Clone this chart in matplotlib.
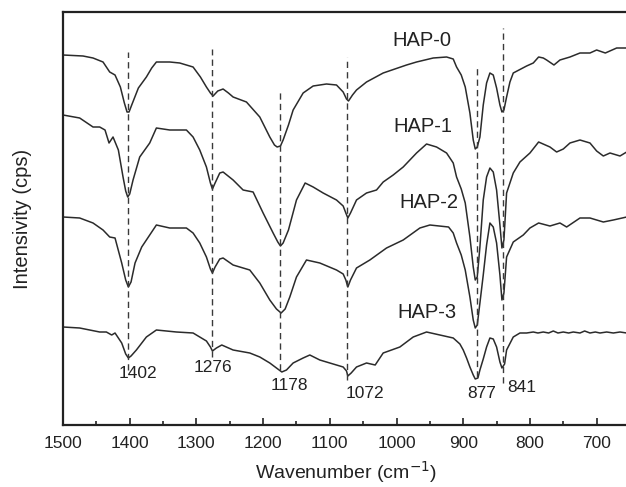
import matplotlib
matplotlib.use("Agg")
import matplotlib.pyplot as plt
from matplotlib.ticker import MultipleLocator

plt.rcParams["font.family"] = ["Liberation Sans", "DejaVu Sans"]

# spectra: wavenumber (cm-1) and intensity (arb., offset already applied)
hap0_wn = [1500, 1470, 1455, 1440, 1430, 1422, 1414, 1408, 1404, 1401, 1397, 1387, 1375, 1367,
           1360, 1340, 1325, 1305, 1294, 1285, 1279, 1275, 1268, 1260, 1252, 1245, 1225, 1205,
           1190, 1183, 1179, 1174, 1170, 1162, 1155, 1140, 1125, 1105, 1090, 1080, 1075, 1072,
           1066, 1060, 1045, 1020, 985, 970, 945, 925, 915, 910, 903, 897, 890, 885, 882, 879,
           875, 870, 865, 860, 855, 850, 845, 842, 839, 835, 830, 825, 805, 795, 787, 780, 775,
           764, 755, 740, 725, 710, 700, 687, 670, 655]
hap0_y = [370, 369, 367, 363, 353, 350, 338, 322, 313, 313, 320, 337, 348, 357,
          363, 363, 362, 358, 348, 338, 332, 329, 334, 336, 332, 328, 323, 308,
          288, 280, 278, 279, 285, 300, 315, 332, 339, 341, 340, 333, 326, 324,
          330, 335, 343, 352, 360, 363, 367, 368, 366, 358, 350, 338, 312, 285, 276, 278,
          288, 320, 342, 352, 350, 337, 320, 313, 315, 328, 343, 352, 359, 362, 368, 367, 365,
          360, 365, 368, 372, 372, 375, 372, 377, 377]

hap1_wn = [1500, 1475, 1455, 1445, 1437, 1431, 1425, 1417, 1410, 1406, 1403, 1400, 1395, 1385,
           1370, 1360, 1340, 1315, 1305, 1295, 1285, 1279, 1276, 1272, 1265, 1260, 1245, 1230,
           1215, 1200, 1185, 1178, 1174, 1170, 1162, 1150, 1137, 1125, 1110, 1090, 1080, 1076,
           1073, 1069, 1060, 1045, 1030, 1020, 1005, 990, 970, 955, 940, 925, 915, 910, 903,
           897, 890, 885, 882, 879, 875, 870, 865, 860, 855, 850, 845, 842, 839, 835, 825, 815,
           800, 787, 770, 760, 750, 740, 725, 710, 700, 690, 680, 675, 665, 655]
hap1_y = [310, 307, 298, 298, 295, 282, 288, 275, 248, 234, 228, 231, 245, 268,
          282, 297, 295, 295, 288, 275, 258, 242, 236, 242, 252, 253, 245, 235,
          233, 212, 192, 183, 179, 182, 195, 225, 242, 238, 232, 225, 219, 212,
          207, 212, 225, 232, 235, 243, 250, 258, 272, 281, 278, 272, 262, 248, 236,
          222, 188, 158, 145, 148, 178, 225, 248, 257, 253, 235, 200, 177, 185, 232, 252, 263,
          272, 283, 278, 273, 276, 282, 285, 282, 274, 269, 272, 271, 269, 273]

hap2_wn = [1500, 1475, 1455, 1440, 1430, 1422, 1412, 1406, 1402, 1398, 1392, 1382, 1370, 1360,
           1340, 1315, 1305, 1295, 1285, 1279, 1276, 1272, 1265, 1260, 1245, 1220, 1205, 1190,
           1180, 1173, 1167, 1160, 1150, 1135, 1115, 1090, 1080, 1076, 1073, 1069, 1060, 1040,
           1015, 990, 965, 950, 922, 915, 910, 903, 897, 890, 885, 882, 879, 875, 870, 865, 860,
           855, 850, 845, 842, 839, 835, 825, 810, 800, 787, 770, 755, 745, 725, 710, 690, 675,
           655]
hap2_y = [208, 207, 202, 195, 188, 187, 162, 145, 138, 143, 162, 178, 190, 200,
          197, 197, 192, 182, 168, 156, 152, 158, 166, 167, 160, 155, 142, 125,
          116, 112, 116, 128, 148, 165, 162, 155, 151, 145, 138, 145, 157, 165,
          177, 185, 197, 200, 198, 192, 182, 170, 155, 128, 105, 97, 100, 122, 150, 180, 202,
          198, 182, 150, 125, 132, 168, 183, 190, 197, 202, 199, 202, 198, 207, 207, 203, 205,
          208]

hap3_wn = [1500, 1475, 1445, 1435, 1427, 1422, 1412, 1406, 1402, 1398, 1390, 1375, 1360, 1330,
           1305, 1285, 1279, 1276, 1270, 1262, 1245, 1220, 1205, 1190, 1178, 1172, 1165, 1155,
           1140, 1130, 1115, 1090, 1080, 1075, 1073, 1068, 1060, 1045, 1032, 1020, 995, 975, 955,
           935, 915, 905, 900, 895, 890, 885, 882, 878, 875, 870, 865, 860, 855, 850, 845, 842,
           838, 835, 825, 815, 805, 795, 788, 780, 772, 765, 758, 750, 742, 735, 725, 718, 710,
           702, 695, 685, 675, 665, 655]
hap3_y = [98, 97, 93, 93, 90, 92, 82, 71, 67, 69, 75, 88, 95, 93,
          92, 84, 78, 74, 77, 80, 75, 72, 68, 62, 56, 53, 55, 62,
          67, 70, 65, 60, 58, 54, 49, 52, 58, 62, 60, 72, 78, 88, 93,
          90, 87, 81, 75, 67, 58, 50, 46, 47, 55, 66, 78, 87, 86, 78, 63, 57,
          61, 75, 88, 92, 92, 93, 92, 93, 92, 94, 92, 93, 92, 93, 92, 94, 92,
          93, 92, 93, 92, 93, 92]

series = [("HAP-0", hap0_wn, hap0_y), ("HAP-1", hap1_wn, hap1_y),
          ("HAP-2", hap2_wn, hap2_y), ("HAP-3", hap3_wn, hap3_y)]

# sample labels (position in data units)
name_x = [962, 960, 952, 954]
name_y = [385, 298, 222, 112]

# peak markers: dashed line position, extent, label text and position
peak_wn = [1402, 1276, 1174, 1074, 880, 841]
peak_top = [373, 376, 336, 368, 357, 397]
peak_bot = [55, 68, 55, 45, 48, 42]
peak_text = ["1402", "1276", "1178", "1072", "877", "841"]
peak_tx = [1387, 1275, 1161, 1047, 873, 813]
peak_ty = [52, 57, 39, 32, 32, 38]

fig = plt.figure(figsize=(6.26, 4.87), dpi=100)
ax = fig.add_axes([63 / 626, 62 / 487, 567 / 626, 413 / 487])

for name, wn, y in series:
    ax.plot(wn, y, color="#2b2b2b", lw=1.1)

for i, name in enumerate([s[0] for s in series]):
    ax.text(name_x[i], name_y[i], name, fontsize=14.5, ha="center", va="center", color="#222222")

for i in range(len(peak_wn)):
    ax.plot([peak_wn[i], peak_wn[i]], [peak_bot[i], peak_top[i]], color="#3a3a3a",
            lw=1.0, ls=(0, (4.5, 3)))
    ax.text(peak_tx[i], peak_ty[i], peak_text[i], fontsize=12.5, ha="center", va="center",
            color="#222222")

ax.set_xlim(1500, 650)
ax.set_ylim(0, 413)
ax.xaxis.set_major_locator(MultipleLocator(100))
ax.xaxis.set_minor_locator(MultipleLocator(50))
ax.tick_params(axis="x", which="major", direction="in", length=5, width=1.2,
               labelsize=12.5, pad=8, colors="#222222")
ax.tick_params(axis="x", which="minor", direction="in", length=3, width=1.2, colors="#222222")
ax.set_yticks([])
for sp in ax.spines.values():
    sp.set_linewidth(1.6)
    sp.set_color("#222222")

ax.set_xlabel("Wavenumber (cm$^{-1}$)", fontsize=14, labelpad=6, color="#222222")
ax.set_ylabel("Intensivity (cps)", fontsize=14.5, labelpad=22, color="#222222")

fig.savefig("out.png", dpi=100)
